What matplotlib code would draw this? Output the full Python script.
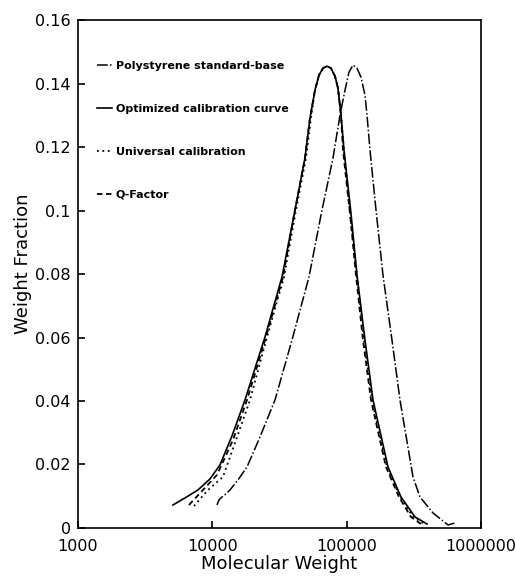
import matplotlib
matplotlib.use("Agg")
import matplotlib.pyplot as plt
from matplotlib.ticker import FixedLocator, FuncFormatter

# --- data ---
mw_ps = [10840, 11220, 11810, 12650, 13540, 15540, 18130, 22660, 29310, 39220,
         52480, 65590, 79210, 89310, 97300, 104200, 111600, 119500, 128000,
         137100, 141900, 149400, 165600, 186600, 217800, 249800, 312200,
         352000, 439900, 568900, 641600]
wf_ps = [0.00724, 0.00882, 0.00976, 0.01071, 0.01197, 0.01512, 0.01921, 0.02866,
         0.04031, 0.05921, 0.07906, 0.10016, 0.11654, 0.13008, 0.13795, 0.14362,
         0.14583, 0.14488, 0.14205, 0.13638, 0.13008, 0.11906, 0.10016, 0.07969,
         0.05921, 0.04031, 0.01606, 0.00976, 0.00472, 0.00094, 0.00157]

mw_opt = [5100, 6260, 7830, 9610, 11410, 14020, 17520, 24690, 33040, 41290,
          49000, 53390, 58170, 62310, 66730, 71470, 76550, 81970, 86300, 90860,
          95650, 107800, 119500, 137100, 157300, 203400, 254100, 323100, 396900]
wf_opt = [0.00724, 0.00945, 0.01197, 0.01543, 0.01984, 0.02898, 0.04031, 0.06016,
          0.07906, 0.10016, 0.11654, 0.12913, 0.13795, 0.14268, 0.14488, 0.14551,
          0.14488, 0.14236, 0.13858, 0.13008, 0.11906, 0.09921, 0.07969, 0.05921,
          0.04031, 0.01921, 0.00976, 0.00346, 0.00126]

mw_uni = [7310, 9290, 12010, 15020, 19090, 25550, 34200, 42010, 49850, 54320,
          58170, 62310, 66730, 71470, 76550, 81970, 86300, 90860, 95650, 106000,
          119500, 134800, 154600, 199900, 249800, 312200, 383600]
wf_uni = [0.00693, 0.01197, 0.01606, 0.02772, 0.04031, 0.06016, 0.07906, 0.10016,
          0.11654, 0.12913, 0.13795, 0.14268, 0.14488, 0.14551, 0.14488, 0.14236,
          0.13858, 0.13008, 0.11906, 0.09921, 0.07969, 0.05921, 0.04031, 0.01921,
          0.00976, 0.00346, 0.00126]

mw_q = [6710, 8530, 10840, 14260, 18130, 25120, 33610, 41290, 49000, 53390,
        58170, 62310, 66730, 71470, 76550, 81970, 86300, 90860, 94020, 106000,
        117500, 132500, 152000, 196500, 245600, 301700, 358100]
wf_q = [0.00724, 0.01197, 0.01669, 0.02772, 0.04031, 0.06016, 0.07906, 0.10016,
        0.11654, 0.12913, 0.13795, 0.14268, 0.14488, 0.14551, 0.14488, 0.14236,
        0.13858, 0.13008, 0.11906, 0.09921, 0.07969, 0.05921, 0.04031, 0.01921,
        0.00976, 0.00346, 0.00126]

x_ticks = [1000, 10000, 100000, 1000000]
y_ticks = [0, 0.02, 0.04, 0.06, 0.08, 0.1, 0.12, 0.14, 0.16]

fig = plt.figure(figsize=(5.16, 5.77), dpi=100)
ax = fig.add_axes([0.151, 0.085, 0.781, 0.88])

ax.plot(mw_ps, wf_ps, color='black', lw=1.1, dashes=(7, 1.5, 1, 1.5),
        label='Polystyrene standard-base')
ax.plot(mw_opt, wf_opt, color='black', lw=1.2, linestyle='-',
        label='Optimized calibration curve')
ax.plot(mw_uni, wf_uni, color='black', lw=1.3, dashes=(1, 2),
        label='Universal calibration')
ax.plot(mw_q, wf_q, color='black', lw=1.3, dashes=(3, 2),
        label='Q-Factor')

ax.set_xscale('log')
ax.set_xlim(1000, 1000000)
ax.set_ylim(0, 0.16)
ax.xaxis.set_major_locator(FixedLocator(x_ticks))
ax.xaxis.set_minor_locator(FixedLocator([]))
ax.xaxis.set_major_formatter(FuncFormatter(lambda v, p: f"{int(round(v))}"))
ax.set_yticks(y_ticks)
ax.yaxis.set_major_formatter(FuncFormatter(lambda v, p: f"{v:g}"))

ax.tick_params(direction='in', length=5, width=1.2, labelsize=11.5,
               top=False, right=False)
ax.tick_params(axis='x', pad=8)
ax.tick_params(axis='y', pad=5)
for s in ax.spines.values():
    s.set_linewidth(1.2)

ax.set_xlabel('Molecular Weight', fontsize=13, labelpad=1)
ax.set_ylabel('Weight Fraction', fontsize=13)
ax.yaxis.set_label_coords(-0.114, 0.52)

ax.legend(loc='upper left', bbox_to_anchor=(0.025, 0.937), frameon=False,
          prop={'weight': 'bold', 'size': 8}, handlelength=1.4,
          handletextpad=0.3, labelspacing=2.95, borderaxespad=0.4)

fig.savefig('out.png', dpi=100)
